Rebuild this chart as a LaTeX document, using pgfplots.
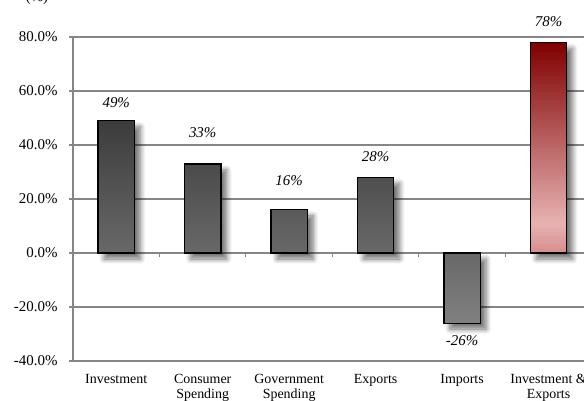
\documentclass[border=0pt]{standalone}
\usepackage{fontspec}
\setmainfont{Liberation Serif}
\usepackage{pgfplots}
\pgfplotsset{compat=1.18}
\usetikzlibrary{shadows.blur}
\definecolor{gridgray}{RGB}{134,134,134}
\definecolor{bartop}{RGB}{60,60,60}
\definecolor{barbot}{RGB}{128,128,128}
\definecolor{redtop}{RGB}{128,0,0}
\definecolor{redmid}{RGB}{232,178,178}
\definecolor{redbot}{RGB}{214,140,140}
\pgfdeclareverticalshading{redbar}{100bp}{color(0bp)=(redbot); color(25bp)=(redbot); color(32bp)=(redmid); color(75bp)=(redtop); color(100bp)=(redtop)}
\begin{document}
\begin{tikzpicture}
\begin{axis}[
  at={(73bp,-361bp)}, anchor=south west,
  scale only axis, width=511bp, height=324bp,
  xmin=-0.5, xmax=5.41, ymin=-40, ymax=80,
  clip=false,
  axis x line*=bottom, axis y line*=left,
  axis line style={gridgray, line width=1.3bp, -},
  ytick={-40,-20,0,20,40,60,80},
  yticklabels={-40.0\%,-20.0\%,0.0\%,20.0\%,40.0\%,60.0\%,80.0\%},
  ymajorgrids, major grid style={gridgray, line width=1.3bp},
  y tick style={gridgray, line width=1.3bp},
  tick align=outside, major tick length=4bp,
  xtick={0,...,5},
  xticklabels={Investment, Consumer\\Spending, Government\\Spending, Exports, Imports, Investment \&\\Exports},
  x tick style={draw=none},
  yticklabel style={font=\fontsize{15}{15}\selectfont, xshift=-8bp},
  xticklabel style={font=\fontsize{14}{14.5}\selectfont, align=center, anchor=north, yshift=-6bp},
]
\addplot[ybar, bar shift=0pt, bar width=0.42, draw=black, line width=1.3bp,
  top color=bartop, bottom color=barbot,
  blur shadow={shadow xshift=6bp, shadow yshift=-6bp, shadow blur radius=5bp, shadow blur steps=10, shadow opacity=55}]
  coordinates {(0,49) (1,33) (2,16) (3,28) (4,-26)};
\addplot[ybar, bar shift=0pt, bar width=0.42, draw=black, line width=1.3bp,
  shade, shading=redbar,
  blur shadow={shadow xshift=6bp, shadow yshift=-6bp, shadow blur radius=5bp, shadow blur steps=10, shadow opacity=55}]
  coordinates {(5,78)};
\addplot[draw=none, mark=none, nodes near coords, point meta=explicit symbolic,
  every node near coord/.style={anchor=center, font=\itshape\fontsize{15}{15}\selectfont}]
  coordinates {(0,55.7)[49\%] (1,44.6)[33\%] (2,26.7)[16\%] (3,35.6)[28\%] (4,-32.6)[-26\%] (5,85.6)[78\%]};
\draw[gridgray, line width=1bp] (axis cs:0.5,0) -- ([yshift=-4bp]axis cs:0.5,0);
\draw[gridgray, line width=1bp] (axis cs:1.5,0) -- ([yshift=-4bp]axis cs:1.5,0);
\draw[gridgray, line width=1bp] (axis cs:2.5,0) -- ([yshift=-4bp]axis cs:2.5,0);
\draw[gridgray, line width=1bp] (axis cs:3.5,0) -- ([yshift=-4bp]axis cs:3.5,0);
\draw[gridgray, line width=1bp] (axis cs:4.5,0) -- ([yshift=-4bp]axis cs:4.5,0);
\end{axis}
\node[font=\fontsize{15}{15}\selectfont, anchor=base] at (37bp,-1bp) {(\%)};
\pgfresetboundingbox
\useasboundingbox (0,0) rectangle (584bp,-401bp);
\end{tikzpicture}
\end{document}
